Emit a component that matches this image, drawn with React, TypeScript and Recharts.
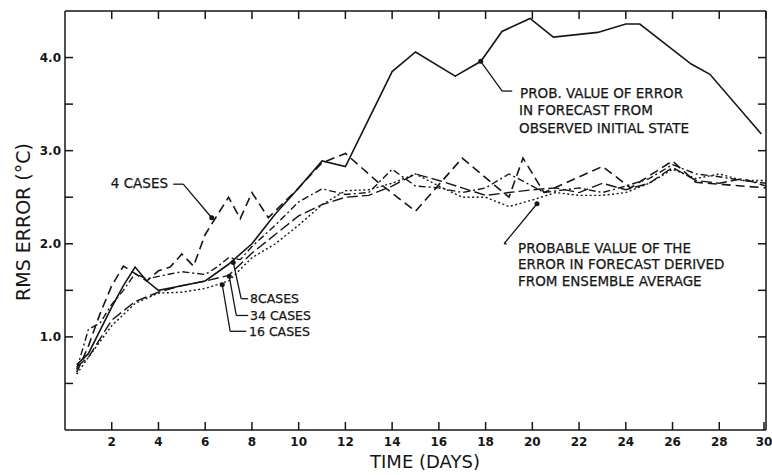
import React from "react";
import { Line, LineChart, ReferenceDot, ReferenceLine, XAxis, YAxis } from "recharts";

// forecast from observed initial state
const obsDays = [0.5, 1, 2, 2.5, 3, 3.5, 4, 5, 6, 7, 8, 9, 10, 11, 12, 14, 15, 16.7, 17.8, 18.7, 19.9, 20.9, 22.8, 24, 24.6, 26.8, 27.6, 29.8];
const obsErr = [0.7, 0.82, 1.32, 1.55, 1.75, 1.6, 1.5, 1.55, 1.6, 1.78, 2.0, 2.32, 2.6, 2.89, 2.83, 3.85, 4.06, 3.8, 3.96, 4.28, 4.42, 4.22, 4.27, 4.36, 4.36, 3.93, 3.82, 3.18];

// ensemble averages
const c4Days = [0.5, 1, 1.5, 2, 2.5, 3, 3.5, 4, 4.5, 5, 5.5, 6, 6.5, 7, 7.5, 8, 8.7, 10, 11, 12, 13.4, 15, 17, 19, 19.6, 20.5, 23, 24.2, 26, 27, 30];
const c4Err = [0.62, 0.9, 1.25, 1.55, 1.76, 1.68, 1.6, 1.71, 1.75, 1.89, 1.76, 2.1, 2.3, 2.5, 2.27, 2.55, 2.28, 2.6, 2.87, 2.97, 2.66, 2.35, 2.92, 2.5, 2.92, 2.55, 2.83, 2.6, 2.89, 2.66, 2.6];

const c8Days = [0.5, 1, 1.5, 2, 2.5, 3, 3.5, 4, 5, 6, 6.5, 7, 7.5, 8, 9, 10, 11, 12, 13, 14, 15, 16, 17, 18, 19, 20, 20.5, 22, 23, 24, 25, 26, 27, 28, 29, 30];
const c8Err = [0.65, 1.08, 1.15, 1.35, 1.5, 1.68, 1.62, 1.65, 1.7, 1.67, 1.75, 1.85, 1.83, 1.97, 2.2, 2.45, 2.59, 2.53, 2.55, 2.8, 2.62, 2.6, 2.55, 2.6, 2.75, 2.62, 2.55, 2.6, 2.55, 2.62, 2.7, 2.85, 2.75, 2.72, 2.68, 2.65];

const c34Days = [0.5, 1, 2, 3, 4, 5, 6, 7, 8, 9, 10, 11, 12, 13, 14, 15, 16, 17, 18, 19, 20, 21, 22, 23, 24, 25, 26, 27, 28, 29, 30];
const c34Err = [0.68, 0.78, 1.18, 1.38, 1.48, 1.55, 1.6, 1.66, 1.9, 2.1, 2.3, 2.42, 2.5, 2.52, 2.62, 2.75, 2.68, 2.6, 2.52, 2.55, 2.58, 2.6, 2.55, 2.65, 2.58, 2.65, 2.82, 2.68, 2.65, 2.7, 2.62];

const c16Days = [0.5, 1, 2, 3, 4, 5, 6, 7, 8, 9, 10, 11, 12, 13, 14, 15, 16, 17, 18, 19, 20, 21, 22, 23, 24, 25, 26, 27, 28, 29, 30];
const c16Err = [0.6, 0.78, 1.12, 1.36, 1.47, 1.48, 1.52, 1.6, 1.85, 2.0, 2.2, 2.42, 2.57, 2.58, 2.65, 2.75, 2.62, 2.5, 2.5, 2.4, 2.47, 2.55, 2.52, 2.52, 2.55, 2.65, 2.8, 2.7, 2.75, 2.68, 2.68];

const dayTicks = [2, 4, 6, 8, 10, 12, 14, 16, 18, 20, 22, 24, 26, 28, 30];
const errTicks = [0.5, 1, 1.5, 2, 2.5, 3, 3.5, 4];
const errLabels = [1, 2, 3, 4];

const DAY_MAX = 30;
const ERR_MAX = 4.5;

// annotation pointers (day, error)
const pointers = [
  { path: [[4.63, 2.64], [5.06, 2.64], [6.28, 2.28]] },
  { path: [[19.14, 3.64], [18.71, 3.64], [17.79, 3.96]] },
  { path: [[18.9, 2.0], [18.79, 2.0], [20.2, 2.43]] },
  { path: [[7.84, 1.41], [7.54, 1.41], [7.2, 1.8]] },
  { path: [[7.84, 1.23], [7.33, 1.23], [7.03, 1.65]] },
  { path: [[7.76, 1.06], [7.07, 1.06], [6.73, 1.56]] },
];

const pts = (days: number[], vals: number[]) => days.map((d, i) => ({ day: d, err: vals[i] }));

const INK = "#161616";
const FONT = "DejaVu Sans";

// plot box (matches chart margins + left axis width)
const W = 772, H = 475;
const M = { top: 11, right: 6, bottom: 15, left: 0 };
const Y_AXIS_W = 65, X_AXIS_H = 30;
const PL = M.left + Y_AXIS_W, PR = W - M.right, PT = M.top, PB = H - M.bottom - X_AXIS_H;
const sx = (d: number) => PL + (d / DAY_MAX) * (PR - PL);
const sy = (v: number) => PB - (v / ERR_MAX) * (PB - PT);

const BottomTick = (p: any) => (
  <g>
    <line x1={p.x} y1={p.y} x2={p.x} y2={p.y - 8} stroke={INK} strokeWidth={1.5} />
    <text x={p.x} y={p.y + 16} textAnchor="middle" fontFamily={FONT} fontWeight="bold" fontSize={12} fill={INK}>
      {p.payload.value}
    </text>
  </g>
);
const LeftTick = (p: any) => (
  <g>
    <line x1={p.x} y1={p.y} x2={p.x + 8} y2={p.y} stroke={INK} strokeWidth={1.5} />
    {errLabels.includes(p.payload.value) && (
      <text x={p.x - 4} y={p.y + 4} textAnchor="end" fontFamily={FONT} fontWeight="bold" fontSize={12} fill={INK}>
        {p.payload.value.toFixed(1)}
      </text>
    )}
  </g>
);

const txt = { fontFamily: FONT, fill: INK, stroke: INK, strokeWidth: 0.25 } as const;

export default function App() {
  const axis = { stroke: INK, strokeWidth: 1.5 };
  const ref = { xAxisId: "b", yAxisId: "l", ifOverflow: "visible" as const, stroke: INK };
  return (
    <div style={{ position: "absolute", left: 0, top: 0, width: W, height: H, background: "#fff" }}>
      <LineChart width={W} height={H} margin={M}>
        <XAxis xAxisId="b" dataKey="day" type="number" domain={[0, DAY_MAX]} ticks={dayTicks} allowDataOverflow
          height={X_AXIS_H} tickSize={0} tickMargin={0} tickLine={false} axisLine={axis} tick={<BottomTick />} />
        <YAxis yAxisId="l" type="number" domain={[0, ERR_MAX]} ticks={errTicks} allowDataOverflow width={Y_AXIS_W}
          tickSize={0} tickMargin={0} tickLine={false} axisLine={axis} tick={<LeftTick />} />

        <Line xAxisId="b" yAxisId="l" data={pts(obsDays, obsErr)} dataKey="err" type="linear" stroke={INK}
          strokeWidth={1.6} dot={false} isAnimationActive={false} />
        <Line xAxisId="b" yAxisId="l" data={pts(c4Days, c4Err)} dataKey="err" type="linear" stroke={INK}
          strokeWidth={1.6} strokeDasharray="9 5" dot={false} isAnimationActive={false} />
        <Line xAxisId="b" yAxisId="l" data={pts(c8Days, c8Err)} dataKey="err" type="linear" stroke={INK}
          strokeWidth={1.4} strokeDasharray="7 3 2 3" dot={false} isAnimationActive={false} />
        <Line xAxisId="b" yAxisId="l" data={pts(c34Days, c34Err)} dataKey="err" type="linear" stroke={INK}
          strokeWidth={1.4} strokeDasharray="11 4" dot={false} isAnimationActive={false} />
        <Line xAxisId="b" yAxisId="l" data={pts(c16Days, c16Err)} dataKey="err" type="linear" stroke={INK}
          strokeWidth={1.4} strokeDasharray="2 2.5" dot={false} isAnimationActive={false} />

        {pointers.map((ptr, i) =>
          ptr.path.slice(1).map((q, j) => (
            <ReferenceLine key={`p${i}-${j}`} {...ref} strokeWidth={1.3}
              segment={[{ x: ptr.path[j][0], y: ptr.path[j][1] }, { x: q[0], y: q[1] }]} />
          ))
        )}
        {pointers.map((ptr, i) => {
          const tip = ptr.path[ptr.path.length - 1];
          return <ReferenceDot key={`d${i}`} xAxisId="b" yAxisId="l" x={tip[0]} y={tip[1]} r={2.5} fill={INK} stroke="none" ifOverflow="visible" />;
        })}
      </LineChart>

      <svg width={W} height={H} style={{ position: "absolute", left: 0, top: 0, pointerEvents: "none" }}>
        {/* top and right frame edges with inward ticks */}
        <g stroke={INK} strokeWidth={1.5} fill="none">
          <line x1={PL} y1={PT} x2={PR} y2={PT} />
          <line x1={PR} y1={PT} x2={PR} y2={PB} />
          {dayTicks.map((d) => <line key={`t${d}`} x1={sx(d)} y1={PT} x2={sx(d)} y2={PT + 8} />)}
          {errTicks.map((v) => <line key={`r${v}`} x1={PR} y1={sy(v)} x2={PR - 8} y2={sy(v)} />)}
        </g>

        <text {...txt} strokeWidth={0} x={23} y={222} fontSize={19} textAnchor="middle" dominantBaseline="central" transform="rotate(-90 23 222)">
          RMS ERROR (°C)
        </text>
        <text {...txt} strokeWidth={0} x={425} y={461} fontSize={18} textAnchor="middle" dominantBaseline="central">TIME (DAYS)</text>

        <text {...txt} x={168} y={183} fontSize={13.5} textAnchor="end" dominantBaseline="central">4 CASES</text>

        <g fontSize={13.5} dominantBaseline="central" {...txt}>
          <text x={520} y={93}>PROB. VALUE OF ERROR</text>
          <text x={519} y={110}>IN FORECAST FROM</text>
          <text x={519} y={128}>OBSERVED INITIAL STATE</text>
        </g>
        <g fontSize={13.5} dominantBaseline="central" {...txt}>
          <text x={518} y={248}>PROBABLE VALUE OF THE</text>
          <text x={518} y={264}>ERROR IN FORECAST DERIVED</text>
          <text x={518} y={281}>FROM ENSEMBLE AVERAGE</text>
        </g>
        <g fontSize={12.5} dominantBaseline="central" {...txt}>
          <text x={250} y={298}>8CASES</text>
          <text x={250} y={315}>34 CASES</text>
          <text x={249} y={331}>16 CASES</text>
        </g>
      </svg>
    </div>
  );
}
